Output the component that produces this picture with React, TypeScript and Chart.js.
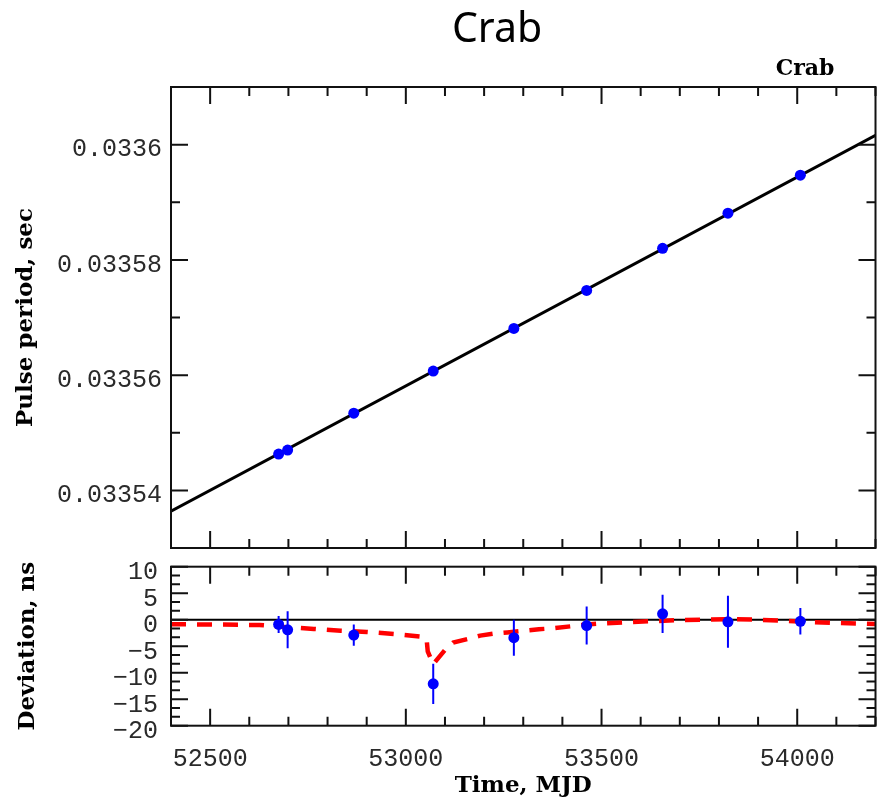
import React, { useEffect, useRef } from 'react';
import { Chart, registerables } from 'chart.js';
Chart.register(...registerables);

// ---- Data ----
const chartTitle = 'Crab';
const panelLabel = 'Crab';
const obsMJD = [52675, 52698, 52867, 53070, 53276, 53462, 53656, 53823, 54008];
const periodSec = [0.0335463, 0.033547, 0.0335534, 0.0335607, 0.0335681, 0.0335747, 0.033582, 0.0335881, 0.0335947];
const fitMJD = [52400, 54200];
const fitPeriod = [0.0335364, 0.0336016];
const deviationNs = [-0.9, -1.9, -2.9, -12.1, -3.4, -1.1, 1.1, -0.4, -0.3];
const deviationErr = [1.6, 3.5, 2.0, 3.8, 3.4, 3.6, 3.6, 4.9, 2.5];
const modelMJD = [52400, 52500, 52626, 52694, 52765, 52834, 52900, 52970, 53038, 53053, 53056, 53070, 53100, 53121, 53160, 53190, 53228, 53259, 53299, 53340, 53380, 53450, 53500, 53555, 53620, 53690, 53760, 53830, 53900, 53970, 54020, 54100, 54200];
const modelNs = [-0.85, -0.9, -1.0, -1.4, -1.75, -2.1, -2.3, -2.7, -3.2, -3.6, -6.0, -8.4, -5.7, -4.3, -3.6, -3.0, -2.6, -2.4, -2.1, -1.8, -1.6, -1.0, -0.7, -0.5, -0.3, -0.1, 0.0, 0.1, 0.0, -0.2, -0.4, -0.6, -0.8];
const zeroMJD = [52400, 54200];
const zeroNs = [0, 0];

const xRange = [52400, 54200];
const xTicks = [52500, 53000, 53500, 54000];
const xTickLabels = ['52500', '53000', '53500', '54000'];
const xMinorStep = 100;
const periodRange = [0.03353, 0.03361];
const periodTicks = [0.03354, 0.03356, 0.03358, 0.0336];
const periodTickLabels = ['0.03354', '0.03356', '0.03358', '0.0336'];
const periodMinorStep = 0.00001;
const devRange = [-20, 10];
const devTicks = [-20, -15, -10, -5, 0, 5, 10];
const devTickLabels = ['\u221220', '\u221215', '\u221210', '\u22125', '0', '5', '10'];
const devMinorStep = 5 / 3;

const yTitleTop = 'Pulse period, sec';
const yTitleBottom = 'Deviation, ns';
const xTitle = 'Time, MJD';

const TICK_FONT = { family: "'Liberation Mono', monospace", size: 25 };
const TITLE_FONT = { family: "'DejaVu Serif', serif", size: 23, weight: 'bold' as const };
const INK = '#111';
const TICK_INK = '#2a2a2a';
const BLUE = '#0000ff';
const RED = '#ff0000';

function isOn(v: number, list: number[]) {
  return list.some((t) => Math.abs(t - v) < 1e-9 * Math.max(1, Math.abs(t)));
}

function makeFrame(xMajor: number[], xStep: number, yMajor: number[], yStep: number) {
  return {
    id: 'frameTicks',
    afterDraw(chart: any) {
      const { ctx, chartArea: a, scales } = chart;
      const xs = scales.x;
      const ys = scales.y;
      ctx.save();
      ctx.strokeStyle = INK;
      ctx.lineWidth = 2;
      ctx.beginPath();
      const nx = Math.round((xs.max - xs.min) / xStep);
      for (let i = 0; i <= nx; i++) {
        const v = xs.min + i * xStep;
        const p = xs.getPixelForValue(v);
        const L = isOn(v, xMajor) ? 17 : 9;
        ctx.moveTo(p, a.top);
        ctx.lineTo(p, a.top + L);
        ctx.moveTo(p, a.bottom);
        ctx.lineTo(p, a.bottom - L);
      }
      const ny = Math.round((ys.max - ys.min) / yStep);
      for (let i = 0; i <= ny; i++) {
        const v = ys.min + i * yStep;
        const p = ys.getPixelForValue(v);
        const L = yMajor.some((t) => Math.abs(t - v) < yStep * 1e-3) ? 17 : 9;
        ctx.moveTo(a.left, p);
        ctx.lineTo(a.left + L, p);
        ctx.moveTo(a.right, p);
        ctx.lineTo(a.right - L, p);
      }
      ctx.stroke();
      ctx.strokeRect(a.left, a.top, a.right - a.left, a.bottom - a.top);
      ctx.restore();
    },
  };
}

const headerText = {
  id: 'headerText',
  afterDraw(chart: any) {
    const ctx = chart.ctx;
    ctx.save();
    ctx.fillStyle = '#000';
    ctx.textAlign = 'center';
    ctx.textBaseline = 'alphabetic';
    ctx.font = "41px 'Noto Sans', sans-serif";
    ctx.fillText(chartTitle, 497, 42);
    ctx.font = "bold 22px 'DejaVu Serif', serif";
    ctx.fillText(panelLabel, 805, 75);
    ctx.restore();
  },
};

const errorBars = {
  id: 'errorBars',
  beforeDatasetDraw(chart: any, args: any) {
    if (args.index !== 2) return;
    const { ctx, scales } = chart;
    ctx.save();
    ctx.strokeStyle = BLUE;
    ctx.lineWidth = 2;
    ctx.beginPath();
    obsMJD.forEach((x, i) => {
      const px = scales.x.getPixelForValue(x);
      ctx.moveTo(px, scales.y.getPixelForValue(deviationNs[i] + deviationErr[i]));
      ctx.lineTo(px, scales.y.getPixelForValue(deviationNs[i] - deviationErr[i]));
    });
    ctx.stroke();
    ctx.restore();
  },
};

export default function App() {
  const topRef = useRef<HTMLCanvasElement>(null);
  const botRef = useRef<HTMLCanvasElement>(null);

  useEffect(() => {
    const top = new Chart(topRef.current as HTMLCanvasElement, {
      type: 'scatter',
      data: {
        datasets: [
          {
            label: 'fit',
            data: fitMJD.map((x, i) => ({ x, y: fitPeriod[i] })),
            showLine: true,
            borderColor: '#000',
            borderWidth: 3,
            pointRadius: 0,
            order: 2,
          } as any,
          {
            label: 'obs',
            data: obsMJD.map((x, i) => ({ x, y: periodSec[i] })),
            backgroundColor: BLUE,
            borderWidth: 0,
            pointRadius: 5.5,
            order: 1,
          },
        ],
      },
      options: {
        responsive: false,
        animation: false,
        events: [],
        layout: { padding: { left: 0, right: 1, top: 87, bottom: 0 } },
        plugins: { legend: { display: false }, tooltip: { enabled: false }, title: { display: false } },
        scales: {
          x: {
            type: 'linear',
            min: xRange[0],
            max: xRange[1],
            afterBuildTicks: (s: any) => { s.ticks = xTicks.map((v) => ({ value: v })); },
            ticks: { display: false },
            grid: { display: false, drawTicks: false },
            border: { display: false },
            afterFit: (s: any) => { s.height = 12; s.paddingLeft = 0; s.paddingRight = 0; },
          },
          y: {
            type: 'linear',
            min: periodRange[0],
            max: periodRange[1],
            afterBuildTicks: (s: any) => { s.ticks = periodTicks.map((v) => ({ value: v })); },
            ticks: {
              autoSkip: false,
              color: TICK_INK,
              font: TICK_FONT,
              padding: 9,
              labelOffset: 5,
              callback: (_v: any, i: number) => periodTickLabels[i],
            },
            grid: { display: false, drawTicks: false },
            border: { display: false },
            title: { display: true, text: yTitleTop, color: '#000', font: TITLE_FONT, padding: { top: 12, bottom: 0 } },
            afterFit: (s: any) => { s.width = 171; s.paddingTop = 0; s.paddingBottom = 0; },
          },
        },
      } as any,
      plugins: [makeFrame(xTicks, xMinorStep, periodTicks, periodMinorStep), headerText],
    });

    const bot = new Chart(botRef.current as HTMLCanvasElement, {
      type: 'scatter',
      data: {
        datasets: [
          {
            label: 'zero',
            data: zeroMJD.map((x, i) => ({ x, y: zeroNs[i] })),
            showLine: true,
            borderColor: '#000',
            borderWidth: 2,
            pointRadius: 0,
            order: 3,
          } as any,
          {
            label: 'model',
            data: modelMJD.map((x, i) => ({ x, y: modelNs[i] })),
            showLine: true,
            borderColor: RED,
            borderWidth: 4.5,
            borderDash: [15, 11],
            pointRadius: 0,
            order: 2,
          } as any,
          {
            label: 'dev',
            data: obsMJD.map((x, i) => ({ x, y: deviationNs[i] })),
            backgroundColor: BLUE,
            borderWidth: 0,
            pointRadius: 5.5,
            order: 1,
          },
        ],
      },
      options: {
        responsive: false,
        animation: false,
        events: [],
        layout: { padding: { left: 0, right: 1, top: 6.7, bottom: 0 } },
        plugins: { legend: { display: false }, tooltip: { enabled: false }, title: { display: false } },
        scales: {
          x: {
            type: 'linear',
            min: xRange[0],
            max: xRange[1],
            afterBuildTicks: (s: any) => { s.ticks = xTicks.map((v) => ({ value: v })); },
            ticks: {
              autoSkip: false,
              maxRotation: 0,
              color: TICK_INK,
              font: TICK_FONT,
              padding: 19,
              callback: (_v: any, i: number) => xTickLabels[i],
            },
            grid: { display: false, drawTicks: false },
            border: { display: false },
            title: { display: true, text: xTitle, color: '#000', font: TITLE_FONT, padding: { top: 0, bottom: 5 } },
            afterFit: (s: any) => { s.height = 79.3; s.paddingLeft = 0; s.paddingRight = 0; },
          },
          y: {
            type: 'linear',
            min: devRange[0],
            max: devRange[1],
            afterBuildTicks: (s: any) => { s.ticks = devTicks.map((v) => ({ value: v })); },
            ticks: {
              autoSkip: false,
              color: TICK_INK,
              font: TICK_FONT,
              padding: 13,
              labelOffset: 6,
              callback: (_v: any, i: number) => devTickLabels[i],
            },
            grid: { display: false, drawTicks: false },
            border: { display: false },
            title: { display: true, text: yTitleBottom, color: '#000', font: TITLE_FONT, padding: { top: 14, bottom: 0 } },
            afterFit: (s: any) => { s.width = 171; s.paddingTop = 0; s.paddingBottom = 0; },
          },
        },
      } as any,
      plugins: [makeFrame(xTicks, xMinorStep, devTicks, devMinorStep), errorBars],
    });

    return () => {
      top.destroy();
      bot.destroy();
    };
  }, []);

  return (
    <div style={{ position: 'absolute', left: 0, top: 0, width: 881, height: 805, background: '#fff' }}>
      <canvas ref={topRef} width={881} height={560} style={{ position: 'absolute', left: 0, top: 0 }} />
      <canvas ref={botRef} width={881} height={245} style={{ position: 'absolute', left: 0, top: 560 }} />
    </div>
  );
}
